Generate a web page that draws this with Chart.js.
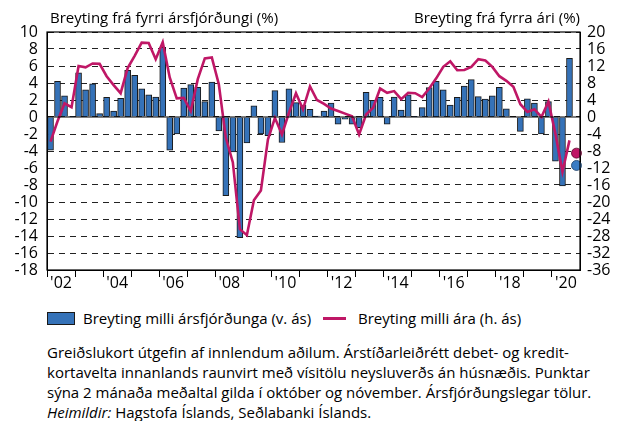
<!DOCTYPE html>
<html>
<head>
<meta charset="utf-8">
<script src="https://cdn.jsdelivr.net/npm/chart.js@4"></script>
<style>
  body { margin: 0; background: #fff; font-family: "Open Sans", sans-serif; color: #000; }
  #wrap { position: relative; width: 626px; height: 421px; overflow: hidden; }
  #chart { position: absolute; left: 0; top: 0; }
  .ttl { position: absolute; top: 7px; font-size: 15px; line-height: 20px; white-space: nowrap; }
  .legend { position: absolute; top: 308px; left: 47px; font-size: 15px; line-height: 20px; white-space: nowrap; }
  .legend span { position: absolute; top: 0; }
  .sw { position: absolute; left: 0; top: 4px; width: 26px; height: 11px; background: #3572b8; border: 1px solid #1a1a1a; }
  .ln { position: absolute; left: 276px; top: 9px; width: 23px; height: 3px; background: #bf1766; }
  .note { position: absolute; top: 342px; left: 47px; font-size: 15px; line-height: 20px; white-space: nowrap; }
</style>
</head>
<body>
<div id="wrap">
  <canvas id="chart" width="626" height="296"></canvas>
  <div class="ttl" style="left:50px">Breyting frá fyrri ársfjórðungi (%)</div>
  <div class="ttl" style="right:46px">Breyting frá fyrra ári (%)</div>
  <div class="legend">
    <div class="sw"></div><span style="left:36px">Breyting milli ársfjórðunga (v. ás)</span>
    <div class="ln"></div><span style="left:311px">Breyting milli ára (h. ás)</span>
  </div>
  <div class="note">
    Greiðslukort útgefin af innlendum aðilum. Árstíðarleiðrétt debet- og kredit-<br>
    kortavelta innanlands raunvirt með vísitölu neysluverðs án húsnæðis. Punktar<br>
    sýna 2 mánaða meðaltal gilda í október og nóvember. Ársfjórðungslegar tölur.<br>
    <i>Heimildir:</i> Hagstofa Íslands, Seðlabanki Íslands.
  </div>
</div>
<script>
// quarters 2002K1 - 2020K4
const quarters = [];
for (let y = 2002; y <= 2020; y++) for (let q = 1; q <= 4; q++) quarters.push(y + "K" + q);

// quarter-on-quarter change, left axis (%)
const qoq = [
  -3.9, 4.2, 2.5, 0.05,
  5.2, 3.2, 3.9, 0.4,
  2.3, 0.7, 2.2, 5.5,
  4.9, 3.3, 2.6, 2.35,
  8.2, -3.9, -2.0, 3.4,
  3.8, 3.5, 1.8, 4.1,
  -1.65, -9.25, -4.1, -14.2,
  -3.05, 1.3, -2.0, -2.2,
  3.1, -3.0, 3.3, 1.7,
  1.4, 0.9, 0.1, 0.7,
  1.65, -0.85, -0.25, -0.85,
  -1.25, 2.9, 1.95, 2.3,
  -0.85, 2.35, 0.8, 2.6,
  0.05, 1.1, 3.45, 4.2,
  3.2, 1.4, 2.3, 3.65,
  4.4, 2.4, 2.1, 2.5,
  3.5, 0.95, 0, -1.7,
  2.15, 1.65, -2.0, 1.8,
  -5.2, -8.1, 6.9, null
];

// year-on-year change, right axis (%)
const yoy = [
  -5.8, -1.0, 3.2, 2.3,
  12.0, 11.7, 12.6, 12.5,
  9.6, 7.5, 5.6, 11.5,
  14.4, 17.5, 17.4, 13.6,
  17.6, 9.3, 4.4, 4.5,
  1.4, 8.9, 13.8, 14.0,
  7.7, -4.9, -10.7, -26.4,
  -27.8, -19.6, -17.3, -5.3,
  -0.2, -4.1, 1.0, 5.6,
  1.8, 7.2, 4.0, 3.1,
  2.0, 1.4, 0.8, 0.15,
  -4.1, 0.6, 2.2, 6.7,
  5.7, 6.1, 4.2, 5.7,
  5.6, 4.7, 6.7, 9.1,
  11.8, 13.1, 11.0, 11.05,
  11.8, 13.6, 13.3, 11.8,
  9.6, 8.5, 7.1, 3.0,
  1.2, 1.8, 0.0, 3.6,
  -4.0, -12.9, -5.5, null
];

// Oct-Nov 2020 averages (dots)
const dotQoq = quarters.map((q, i) => i === quarters.length - 1 ? -5.7 : null);
const dotYoy = quarters.map((q, i) => i === quarters.length - 1 ? -8.5 : null);

const blue = "#3572b8";
const magenta = "#bf1766";
const font = { family: "Open Sans", size: 16 };

const framePlugin = {
  id: "frame",
  afterDatasetsDraw(chart) {
    const { ctx, chartArea: a, scales } = chart;
    ctx.save();
    ctx.strokeStyle = "#000";
    ctx.lineWidth = 1.2;
    const y0 = scales.y.getPixelForValue(0);
    ctx.beginPath();
    ctx.moveTo(a.left, y0);
    ctx.lineTo(a.right, y0);
    ctx.stroke();
    ctx.strokeRect(a.left, a.top, a.right - a.left, a.bottom - a.top);
    ctx.restore();
  }
};

new Chart(document.getElementById("chart"), {
  data: {
    labels: quarters,
    datasets: [
      {
        type: "line", data: dotYoy, yAxisID: "y1", showLine: false,
        pointRadius: 5, pointBackgroundColor: magenta, pointBorderColor: "#5a0a2c", pointBorderWidth: 0.8, order: 0
      },
      {
        type: "line", data: dotQoq, yAxisID: "y", showLine: false,
        pointRadius: 5, pointBackgroundColor: "#3a7cc4", pointBorderColor: "#1c3f66", pointBorderWidth: 0.8, order: 0
      },
      {
        type: "line", data: yoy, yAxisID: "y1", borderColor: magenta, borderWidth: 2.6,
        pointRadius: 0, tension: 0, order: 1
      },
      {
        type: "bar", data: qoq, yAxisID: "y", backgroundColor: blue, borderColor: "#1a1a1a",
        borderWidth: 1, barThickness: 6, order: 2
      }
    ]
  },
  options: {
    responsive: false,
    animation: false,
    devicePixelRatio: 1,
    layout: { padding: { top: 32, bottom: 0, left: 0, right: 0 } },
    plugins: { legend: { display: false }, tooltip: { enabled: false } },
    scales: {
      x: {
        offset: true,
        grid: {
          offset: true,
          drawOnChartArea: false,
          drawTicks: true,
          tickLength: 7,
          color: ctx => ctx.index % 4 === 0 ? "#000" : "rgba(0,0,0,0)"
        },
        border: { color: "#000", width: 1 },
        ticks: {
          autoSkip: false, maxRotation: 0, color: "#000", font, padding: -3, labelOffset: 3.5,
          callback: (v, i) => i % 8 === 1 ? "'" + quarters[i].slice(2, 4) : ""
        },
        afterFit: s => { s.height = 26; }
      },
      y: {
        position: "left", min: -18, max: 10,
        ticks: { stepSize: 2, autoSkip: false, color: "#000", font, padding: 9 },
        grid: { color: "#222", lineWidth: 1, drawTicks: false },
        border: { color: "#000", width: 1, dash: [6, 5] },
        afterFit: s => { s.width = 47; }
      },
      y1: {
        position: "right", min: -36, max: 20,
        ticks: { stepSize: 4, autoSkip: false, color: "#000", font, padding: 7 },
        grid: { drawOnChartArea: false, drawTicks: false },
        border: { color: "#000", width: 1 },
        afterFit: s => { s.width = 46; }
      }
    }
  },
  plugins: [framePlugin]
});
</script>
</body>
</html>
